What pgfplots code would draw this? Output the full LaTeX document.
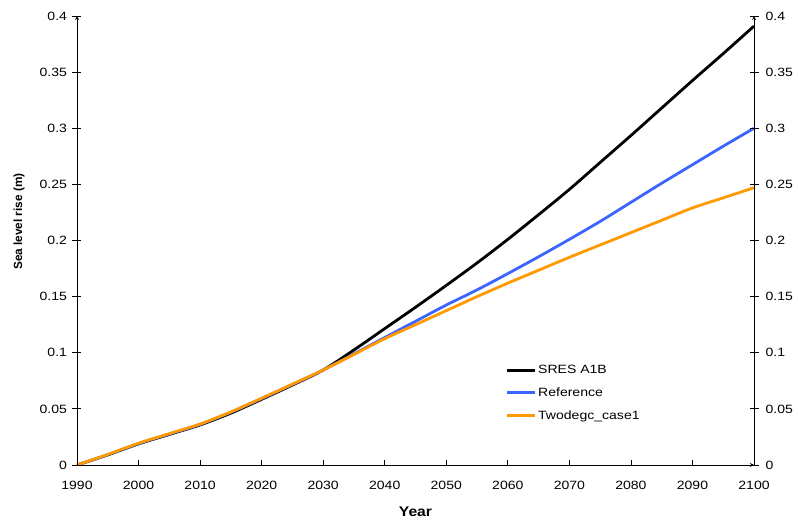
\documentclass[border=0pt]{standalone}
\usepackage{pgfplots}
\pgfplotsset{compat=1.18}
\usepackage{fontspec}
\setmainfont{Liberation Sans}[FakeStretch=1.17]
\newfontfamily\ylabfont{Liberation Sans}
\newfontfamily\xlabfont{Liberation Sans}[FakeStretch=1.12]
\definecolor{cblue}{RGB}{60,100,255}
\definecolor{corange}{RGB}{255,153,0}
\pgfplotstableread{
year black blue orange
1990 0 0 0
1995 0.0090 0.0092 0.0094
2000 0.0188 0.0191 0.0194
2005 0.0272 0.0276 0.0279
2010 0.0357 0.0362 0.0365
2015 0.0462 0.0470 0.0473
2020 0.0585 0.0592 0.0595
2025 0.0712 0.0717 0.0720
2030 0.0846 0.0846 0.0846
2035 0.1025 0.0990 0.0985
2040 0.1215 0.1135 0.1125
2045 0.1405 0.1280 0.1250
2050 0.1600 0.1425 0.1375
2055 0.1800 0.1560 0.1500
2060 0.2010 0.1705 0.1620
2065 0.2230 0.1855 0.1735
2070 0.2455 0.2010 0.1850
2075 0.2695 0.2170 0.1960
2080 0.2935 0.2340 0.2070
2085 0.3180 0.2510 0.2180
2090 0.3425 0.2675 0.2290
2095 0.3665 0.2840 0.2380
2100 0.3910 0.3000 0.2470
}\datatable
\begin{document}
\begin{tikzpicture}
\pgfplotsset{
  every axis/.append style={
    scale only axis, width=677pt, height=449pt,
    xmin=1990, xmax=2100, ymin=0, ymax=0.4,
    font=\fontsize{12}{14}\selectfont,
    /pgf/number format/assume math mode=true,
    ytick={0,0.05,...,0.401},
    yticklabel style={/pgf/number format/fixed, /pgf/number format/precision=2},
    axis line style={-, line width=0.8pt},
    major tick style={line width=0.8pt, black},
  }
}
\begin{axis}[
  name=ax,
  axis x line=bottom, axis y line=none,
  xtick={1990,2000,...,2100},
  xticklabel style={/pgf/number format/1000 sep={}, anchor=center, yshift=-20.5pt},
  major tick length=5pt,
  xtick align=inside,
  xlabel={\xlabfont\fontsize{14}{16}\selectfont\bfseries Year},
  xlabel style={at={(axis description cs:0.5,0)}, anchor=center, yshift=-47pt},
  legend style={at={(0.628,0.2316)}, anchor=north west, draw=none, fill=none,
    font=\fontsize{12}{14}\selectfont, row sep=8.7pt, cells={anchor=west}},
  legend image code/.code={\draw[#1] (0pt,0pt) -- (28pt,0pt);},
]
\addplot[black, line width=2.8pt, smooth] table[x=year, y=black] {\datatable};
\addlegendentry{SRES A1B}
\addplot[cblue, line width=2.8pt, smooth] table[x=year, y=blue] {\datatable};
\addlegendentry{Reference}
\addplot[corange, line width=2.8pt, smooth] table[x=year, y=orange] {\datatable};
\addlegendentry{Twodegc\_case1}
\end{axis}
\begin{axis}[
  axis y line=left, axis x line=none,
  ytick align=center,
  major tick length=9pt,
  yticklabel style={xshift=-2pt},
  ylabel={\ylabfont\fontsize{11.8}{13}\selectfont\bfseries Sea level rise (m)},
  ylabel style={at={(axis description cs:-0.0857,0.542)}, anchor=center},
]
\end{axis}
\begin{axis}[
  axis y line=right, axis x line=none,
  ytick align=center,
  major tick length=9pt,
  yticklabel style={xshift=3.5pt},
]
\end{axis}
\path ([shift={(-77pt,-54pt)}]ax.south west) rectangle ([shift={(44pt,16pt)}]ax.north east);
\end{tikzpicture}
\end{document}
